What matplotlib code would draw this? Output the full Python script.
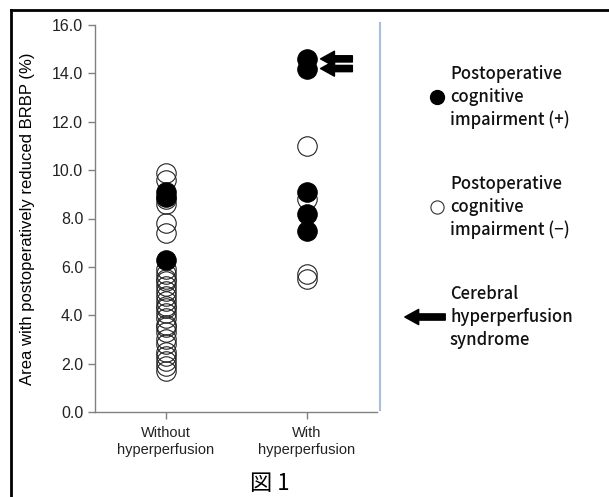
import matplotlib
matplotlib.use('Agg')
import matplotlib.pyplot as plt
from matplotlib.lines import Line2D

# --- data ---
groups = ['Without\nhyperperfusion', 'With\nhyperperfusion']
yticks = [0.0, 2.0, 4.0, 6.0, 8.0, 10.0, 12.0, 14.0, 16.0]

without_open = [9.9, 9.6, 8.8, 8.6, 7.8, 7.4, 5.9, 5.7, 5.5, 5.4, 5.2, 5.0, 4.8, 4.6,
                4.4, 4.3, 4.1, 3.9, 3.6, 3.5, 3.3, 3.0, 2.8, 2.5, 2.3, 2.1, 1.9, 1.7]
without_filled = [9.1, 8.9, 6.3]
with_open = [11.0, 8.8, 5.7, 5.5]
with_filled = [14.6, 14.2, 9.1, 8.2, 7.5]
chs_cases = [14.6, 14.2]   # cerebral hyperperfusion syndrome (arrows)

legend_plus = 'Postoperative\ncognitive\nimpairment (+)'
legend_minus = 'Postoperative\ncognitive\nimpairment (\u2212)'
legend_chs = 'Cerebral\nhyperperfusion\nsyndrome'

W, H = 609, 497
fig = plt.figure(figsize=(W / 100, H / 100), dpi=100)
ax = fig.add_axes([95 / W, 1 - 412 / H, (377 - 95) / W, (412 - 25) / H])

ms = 14
ax.plot([0] * len(without_open), without_open, 'o', ms=ms, mfc='none', mec='#222222', mew=0.8)
ax.plot([1] * len(with_open), with_open, 'o', ms=ms, mfc='none', mec='#222222', mew=0.8)
ax.plot([0] * len(without_filled), without_filled, 'o', ms=ms, mfc='black', mec='black', mew=0.8)
ax.plot([1] * len(with_filled), with_filled, 'o', ms=ms, mfc='black', mec='black', mew=0.8)

arrow_style = 'simple,head_length=1.0,head_width=1.1,tail_width=0.45'
for v in chs_cases:
    ax.annotate('', xy=(1.08, v), xytext=(1.345, v),
                arrowprops=dict(arrowstyle=arrow_style, fc='black', ec='black', mutation_scale=10))

ax.set_xlim(-0.5, 1.5)
ax.set_ylim(0, 16)
ax.set_xticks([0, 1])
ax.set_xticklabels(groups, fontsize=10.5, family='Liberation Sans', linespacing=1.3)
ax.set_yticks(yticks)
ax.set_yticklabels(['%.1f' % t for t in yticks], fontsize=11.5, family='Liberation Sans')
ax.set_ylabel('Area with postoperatively reduced BRBP (%)', fontsize=12,
              family='Liberation Sans')
ax.yaxis.set_label_coords(-60 / 282, 0.5)
for s in ['top', 'right']:
    ax.spines[s].set_visible(False)
for s in ['left', 'bottom']:
    ax.spines[s].set_color('#808080')
    ax.spines[s].set_linewidth(1.0)
ax.tick_params(colors='#808080', labelcolor='#222222', length=5, width=1.0)
ax.tick_params(axis='x', pad=5)
ax.patch.set_visible(False)

# light blue separator line
fig.add_artist(Line2D([380 / W, 380 / W], [1 - 410 / H, 1 - 23 / H], color='#a8bfdc', lw=1.5))
# frame (top and left)
fig.add_artist(Line2D([11 / W, 608 / W], [1 - 10 / H, 1 - 10 / H], color='black', lw=2))
fig.add_artist(Line2D([11 / W, 11 / W], [1 - 10 / H, 0], color='black', lw=2))

# legend area
lfont = dict(family=['Noto Sans CJK JP', 'DejaVu Sans'], fontsize=12, weight='medium',
             va='center', ha='left', linespacing=1.35, color='#111111')
fig.text(450 / W, 1 - 97 / H, legend_plus, **lfont)
fig.text(450 / W, 1 - 207 / H, legend_minus, **lfont)
fig.text(450 / W, 1 - 317 / H, legend_chs, **lfont)
fig.add_artist(Line2D([437 / W], [1 - 97 / H], marker='o', ms=10, mfc='black', mec='black'))
fig.add_artist(Line2D([437 / W], [1 - 207 / H], marker='o', ms=9.5, mfc='none', mec='#333333', mew=0.8))
fig.add_artist(matplotlib.patches.FancyArrowPatch((448 / W, 1 - 317 / H), (402 / W, 1 - 317 / H),
               transform=fig.transFigure, arrowstyle=arrow_style, mutation_scale=10,
               fc='black', ec='black'))

fig.text(270 / W, 1 - 484 / H, '図 1', family=['Noto Sans CJK JP', 'DejaVu Sans'],
         fontsize=16, ha='center', va='center')

fig.savefig('out.png', dpi=100)
